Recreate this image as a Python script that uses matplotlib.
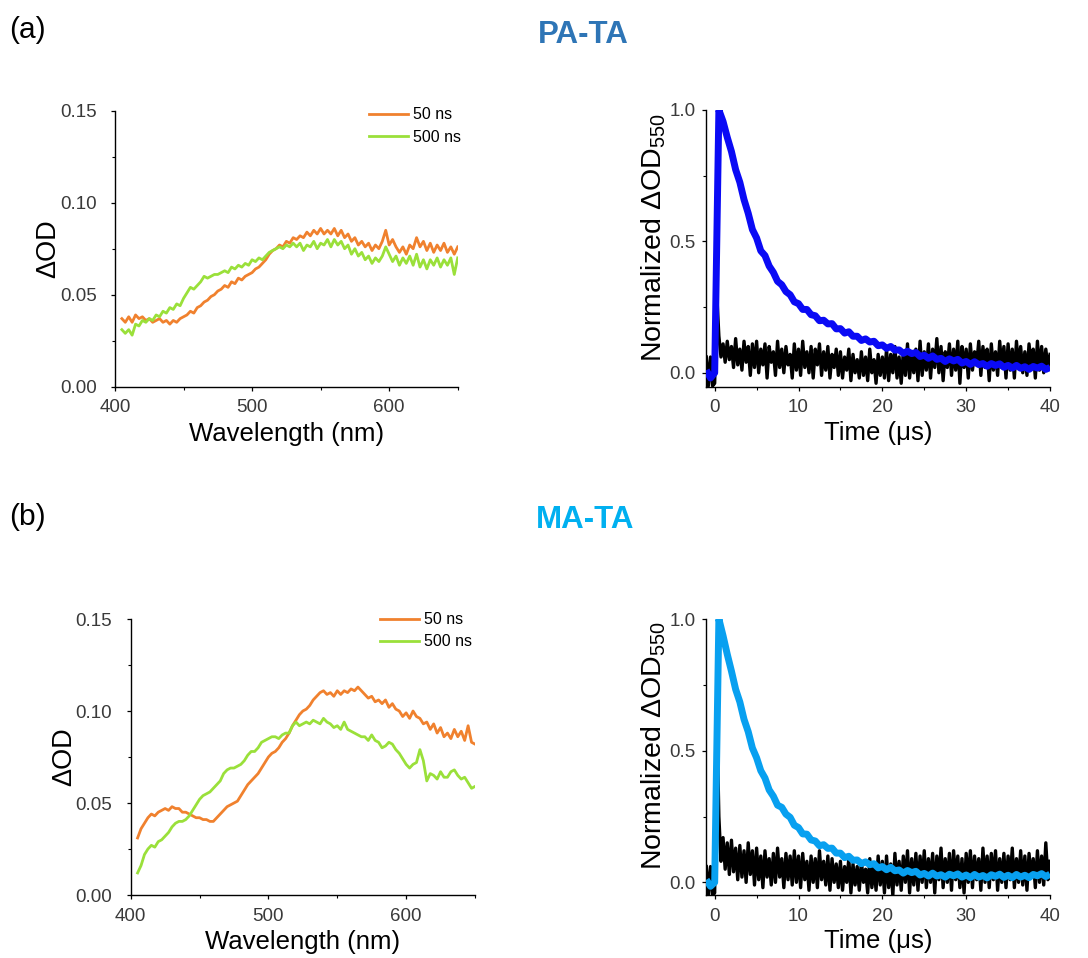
import numpy as np
import matplotlib
matplotlib.use("Agg")
import matplotlib.pyplot as plt
from matplotlib.ticker import MultipleLocator, FormatStrFormatter

plt.rcParams['font.family'] = ['Liberation Sans', 'DejaVu Sans']
plt.rcParams['mathtext.default'] = 'regular'

# ---------------- data ----------------
wavelength = np.arange(405, 650.01, 2.5)

pa_50ns = [
    0.037, 0.035, 0.038, 0.035, 0.039, 0.037, 0.038, 0.036, 0.037, 0.035,
    0.036, 0.037, 0.035, 0.036, 0.034, 0.036, 0.035, 0.037, 0.038, 0.039,
    0.041, 0.040, 0.043, 0.044, 0.046, 0.047, 0.049, 0.050, 0.052, 0.053,
    0.055, 0.054, 0.057, 0.056, 0.059, 0.058, 0.060, 0.061, 0.062, 0.064,
    0.065, 0.067, 0.069, 0.072, 0.074, 0.075, 0.077, 0.076, 0.079, 0.078,
    0.081, 0.080, 0.082, 0.081, 0.084, 0.082, 0.085, 0.083, 0.086, 0.083,
    0.085, 0.083, 0.086, 0.082, 0.085, 0.081, 0.083, 0.079, 0.081, 0.077,
    0.079, 0.076, 0.078, 0.074, 0.077, 0.075, 0.079, 0.085, 0.077, 0.080,
    0.076, 0.073, 0.076, 0.072, 0.077, 0.075, 0.081, 0.076, 0.079, 0.074,
    0.078, 0.073, 0.077, 0.074, 0.078, 0.073, 0.076, 0.072, 0.076]
pa_500ns = [
    0.031, 0.029, 0.031, 0.028, 0.034, 0.033, 0.036, 0.035, 0.037, 0.036,
    0.039, 0.038, 0.041, 0.040, 0.043, 0.042, 0.045, 0.044, 0.048, 0.051,
    0.054, 0.053, 0.055, 0.057, 0.060, 0.059, 0.060, 0.061, 0.061, 0.062,
    0.063, 0.062, 0.065, 0.064, 0.066, 0.065, 0.067, 0.066, 0.069, 0.068,
    0.070, 0.069, 0.071, 0.073, 0.074, 0.075, 0.076, 0.075, 0.077, 0.076,
    0.078, 0.076, 0.078, 0.074, 0.077, 0.076, 0.079, 0.075, 0.078, 0.077,
    0.080, 0.076, 0.080, 0.077, 0.079, 0.075, 0.077, 0.072, 0.075, 0.071,
    0.073, 0.069, 0.071, 0.067, 0.070, 0.068, 0.071, 0.076, 0.072, 0.068,
    0.071, 0.066, 0.070, 0.067, 0.071, 0.066, 0.072, 0.065, 0.069, 0.064,
    0.069, 0.066, 0.070, 0.065, 0.069, 0.066, 0.070, 0.061, 0.070]
ma_50ns = [
    0.031, 0.036, 0.039, 0.042, 0.044, 0.043, 0.045, 0.046, 0.047, 0.046,
    0.048, 0.047, 0.047, 0.045, 0.045, 0.044, 0.043, 0.042, 0.042, 0.041,
    0.041, 0.040, 0.040, 0.042, 0.044, 0.046, 0.048, 0.049, 0.050, 0.051,
    0.054, 0.057, 0.060, 0.062, 0.064, 0.066, 0.069, 0.072, 0.075, 0.077,
    0.078, 0.080, 0.083, 0.085, 0.088, 0.092, 0.095, 0.098, 0.100, 0.101,
    0.103, 0.106, 0.108, 0.110, 0.111, 0.109, 0.110, 0.108, 0.111, 0.109,
    0.111, 0.110, 0.112, 0.111, 0.113, 0.111, 0.109, 0.107, 0.108, 0.105,
    0.106, 0.104, 0.106, 0.102, 0.104, 0.101, 0.100, 0.097, 0.099, 0.096,
    0.100, 0.097, 0.096, 0.093, 0.094, 0.090, 0.093, 0.088, 0.091, 0.086,
    0.088, 0.085, 0.090, 0.086, 0.089, 0.084, 0.092, 0.083, 0.082]
ma_500ns = [
    0.012, 0.016, 0.022, 0.025, 0.027, 0.026, 0.029, 0.030, 0.032, 0.034,
    0.037, 0.039, 0.040, 0.040, 0.041, 0.043, 0.046, 0.049, 0.052, 0.054,
    0.055, 0.056, 0.058, 0.060, 0.062, 0.066, 0.068, 0.069, 0.069, 0.070,
    0.071, 0.073, 0.076, 0.078, 0.078, 0.080, 0.083, 0.084, 0.085, 0.086,
    0.086, 0.085, 0.087, 0.088, 0.088, 0.092, 0.094, 0.092, 0.093, 0.094,
    0.093, 0.095, 0.094, 0.093, 0.096, 0.094, 0.093, 0.091, 0.092, 0.090,
    0.094, 0.090, 0.089, 0.088, 0.087, 0.086, 0.086, 0.084, 0.087, 0.084,
    0.083, 0.080, 0.081, 0.083, 0.082, 0.079, 0.077, 0.074, 0.071, 0.069,
    0.071, 0.072, 0.079, 0.073, 0.062, 0.066, 0.065, 0.063, 0.067, 0.064,
    0.064, 0.067, 0.068, 0.065, 0.063, 0.064, 0.061, 0.058, 0.059]

time_fast = np.arange(-1, 40.01, 0.25)   # black reference traces
time_slow = np.arange(-1, 40.01, 0.5)    # coloured traces

pa_decay = [
    0.01, -0.02, 0.00, 1.00,
    0.956, 0.896, 0.842, 0.773, 0.725, 0.659, 0.607, 0.545, 0.513, 0.464,
    0.446, 0.406, 0.382, 0.348, 0.335, 0.309, 0.297, 0.270, 0.263, 0.241,
    0.241, 0.221, 0.217, 0.198, 0.200, 0.186, 0.187, 0.167, 0.168, 0.151,
    0.156, 0.139, 0.139, 0.123, 0.129, 0.117, 0.120, 0.103, 0.106, 0.093,
    0.100, 0.086, 0.087, 0.074, 0.082, 0.073, 0.077, 0.062, 0.067, 0.055,
    0.064, 0.051, 0.055, 0.043, 0.053, 0.045, 0.051, 0.037, 0.043, 0.032,
    0.042, 0.031, 0.035, 0.025, 0.035, 0.028, 0.034, 0.021, 0.028, 0.018,
    0.028, 0.017, 0.023, 0.013, 0.024, 0.018, 0.025, 0.013, 0.020]
ma_decay = [
    0.01, -0.015, 0.00, 1.00,
    0.936, 0.866, 0.802, 0.733, 0.685, 0.619, 0.572, 0.510, 0.473, 0.424,
    0.396, 0.351, 0.327, 0.293, 0.285, 0.259, 0.247, 0.217, 0.208, 0.184,
    0.183, 0.161, 0.157, 0.139, 0.143, 0.129, 0.130, 0.111, 0.111, 0.094,
    0.099, 0.084, 0.085, 0.071, 0.078, 0.067, 0.071, 0.055, 0.060, 0.048,
    0.057, 0.044, 0.047, 0.035, 0.045, 0.037, 0.042, 0.028, 0.034, 0.024,
    0.035, 0.024, 0.029, 0.020, 0.031, 0.025, 0.032, 0.020, 0.028, 0.018,
    0.030, 0.020, 0.026, 0.017, 0.029, 0.023, 0.031, 0.019, 0.027, 0.018,
    0.030, 0.020, 0.027, 0.018, 0.030, 0.025, 0.033, 0.022, 0.031]

pa_ref = [
    0.06, -0.05, 0.06, -0.05, -0.04, 0.30,
    0.14, 0.06, 0.11, 0.04, 0.12, 0.05, 0.10, 0.02, 0.13, 0.03, 0.09, 0.01, 0.12, 0.04, 0.10, -0.01, 0.11, 0.02,
    0.12, 0.00, 0.09, 0.03, 0.11, -0.02, 0.10, 0.04, 0.08, -0.01, 0.12, 0.02, 0.09, 0.00, 0.10, 0.03, 0.07, -0.02, 0.11, 0.01,
    0.09, -0.01, 0.12, 0.02, 0.08, 0.00, 0.10, -0.02, 0.09, 0.03, 0.11, -0.01, 0.08, 0.01, 0.10, -0.02, 0.07, 0.02, 0.09, -0.01,
    0.08, -0.02, 0.06, 0.01, 0.09, -0.03, 0.07, 0.00, 0.05, -0.02, 0.08, -0.01, 0.06, -0.03, 0.09, 0.00, 0.05, -0.04, 0.07, -0.01,
    0.06, -0.02, 0.09, -0.03, 0.07, 0.00, 0.10, -0.02, 0.06, -0.04, 0.08, -0.01, 0.11, -0.02, 0.07, 0.00, 0.09, -0.03, 0.12, -0.01,
    0.08, 0.01, 0.11, -0.02, 0.09, 0.02, 0.13, 0.00, 0.10, -0.03, 0.08, 0.02, 0.11, -0.01, 0.09, 0.01, 0.12, -0.04, 0.10, 0.02,
    0.09, -0.02, 0.11, 0.01, 0.08, 0.03, 0.12, -0.01, 0.10, 0.02, 0.09, -0.03, 0.11, 0.01, 0.08, -0.01, 0.12, 0.02, 0.10, -0.02,
    0.11, 0.01, 0.09, -0.02, 0.12, 0.02, 0.10, 0.00, 0.08, -0.01, 0.11, 0.03, 0.09, -0.02, 0.12, 0.01, 0.10, 0.00, 0.09, 0.02,
    0.07]
ma_ref = [
    0.06, -0.05, 0.06, -0.05, -0.04, 0.64,
    0.25, 0.08, 0.17, 0.05, 0.15, 0.03, 0.16, 0.04, 0.13, 0.01, 0.14, 0.02, 0.12, 0.00, 0.15, 0.03, 0.12, -0.01,
    0.13, 0.01, 0.10, -0.02, 0.12, 0.02, 0.09, -0.01, 0.11, 0.00, 0.13, 0.02, 0.09, -0.02, 0.11, 0.01, 0.10, -0.01, 0.12, 0.00,
    0.10, -0.02, 0.11, 0.01, 0.08, -0.03, 0.10, 0.00, 0.09, -0.02, 0.12, 0.01, 0.08, -0.01, 0.10, -0.03, 0.09, 0.00, 0.07, -0.02,
    0.08, -0.03, 0.06, 0.00, 0.09, -0.04, 0.07, -0.01, 0.06, -0.03, 0.08, 0.00, 0.05, -0.04, 0.09, -0.02, 0.06, -0.03, 0.10, -0.01,
    0.08, -0.04, 0.10, -0.02, 0.07, -0.05, 0.11, -0.01, 0.08, -0.03, 0.10, 0.00, 0.12, -0.04, 0.09, -0.01, 0.11, -0.03, 0.10, 0.00,
    0.12, -0.02, 0.09, 0.00, 0.11, -0.04, 0.10, 0.01, 0.13, -0.02, 0.09, 0.00, 0.11, -0.03, 0.12, 0.01, 0.10, -0.02, 0.09, -0.04,
    0.11, 0.00, 0.12, -0.02, 0.10, 0.01, 0.09, -0.03, 0.13, 0.00, 0.10, -0.02, 0.11, 0.01, 0.12, -0.03, 0.09, 0.00, 0.11, -0.02,
    0.10, 0.01, 0.13, -0.02, 0.09, 0.00, 0.12, -0.01, 0.10, -0.03, 0.11, 0.02, 0.09, -0.02, 0.12, 0.00, 0.10, -0.01, 0.15, 0.01,
    0.08]

legend_labels = ["50 ns", "500 ns"]
spec_ticks = [0.00, 0.05, 0.10, 0.15]
wl_ticks = [400, 500, 600]
time_ticks = [0, 10, 20, 30, 40]
norm_ticks = [0.0, 0.5, 1.0]

C_ORANGE = '#F0812E'
C_GREEN = '#9AE03A'
C_BLUE_A = '#0A0AF5'
C_BLUE_B = '#08A0F0'
TICK_COL = '#3a3a3a'

W, H = 1088, 958
fig = plt.figure(figsize=(W / 100, H / 100), dpi=100)


def px_axes(x0, x1, ytop, ybot):
    return fig.add_axes([x0 / W, 1 - ybot / H, (x1 - x0) / W, (ybot - ytop) / H])


def style(ax, ypad):
    for s in ('top', 'right'):
        ax.spines[s].set_visible(False)
    for s in ('left', 'bottom'):
        ax.spines[s].set_linewidth(1.0)
    ax.tick_params(which='major', direction='out', length=3.2, width=0.9,
                   labelsize=13.5, colors='black', labelcolor=TICK_COL)
    ax.tick_params(which='minor', direction='out', length=2.0, width=0.8)
    ax.tick_params(axis='y', pad=ypad)
    ax.tick_params(axis='x', pad=6)


def spectrum(ax, o, g, leg_anchor):
    l1, = ax.plot(wavelength, o, color=C_ORANGE, lw=2.0)
    l2, = ax.plot(wavelength, g, color=C_GREEN, lw=2.0)
    ax.set_xlim(400, 650)
    ax.set_ylim(0, 0.15)
    ax.set_xticks(wl_ticks)
    ax.set_yticks(spec_ticks)
    ax.xaxis.set_minor_locator(MultipleLocator(50))
    ax.yaxis.set_minor_locator(MultipleLocator(0.025))
    ax.yaxis.set_major_formatter(FormatStrFormatter('%.2f'))
    style(ax, 10)
    ax.set_xlabel('Wavelength (nm)', fontsize=18.5, labelpad=4)
    ax.set_ylabel('ΔOD', fontsize=19.5, labelpad=-1)
    ax.legend([l1, l2], legend_labels, loc='upper left', bbox_to_anchor=leg_anchor,
              frameon=False, fontsize=11.5, handlelength=2.45, handletextpad=0.3,
              labelspacing=0.45, borderpad=0, borderaxespad=0)


def decay(ax, sig, ref, col, ybot):
    ax.plot(time_fast, ref, color='black', lw=2.4, zorder=2)
    ax.plot(time_slow, sig, color=col, lw=5.0, zorder=3, solid_capstyle='butt')
    ax.set_xlim(-1, 40)
    ax.set_ylim(ybot, 1.0)
    ax.set_xticks(time_ticks)
    ax.set_yticks(norm_ticks)
    ax.xaxis.set_minor_locator(MultipleLocator(5))
    ax.yaxis.set_minor_locator(MultipleLocator(0.25))
    ax.yaxis.set_major_formatter(FormatStrFormatter('%.1f'))
    style(ax, 4.5)
    ax.set_xlabel('Time (μs)', fontsize=18.5, labelpad=3)
    ax.set_ylabel('Normalized ΔOD$_{550}$', fontsize=20.5, labelpad=1, y=0.54)


ax1 = px_axes(115, 457.7, 110.7, 386.7)
spectrum(ax1, pa_50ns, pa_500ns, (0.741, 1.012))
ax2 = px_axes(706.3, 1050, 110, 386.7)
decay(ax2, pa_decay, pa_ref, C_BLUE_A, -0.053)

ax3 = px_axes(130.7, 475, 619, 895)
spectrum(ax3, ma_50ns, ma_500ns, (0.724, 1.025))
ax4 = px_axes(706.3, 1050, 619, 895)
decay(ax4, ma_decay, ma_ref, C_BLUE_B, -0.048)

fig.text(9 / W, 1 - 30 / H, '(a)', fontsize=21.5, va='center', ha='left')
fig.text(9 / W, 1 - 517 / H, '(b)', fontsize=21.5, va='center', ha='left')
fig.text(583 / W, 1 - 35 / H, 'PA-TA', fontsize=22.5, fontweight='bold',
         color='#2E75B6', ha='center', va='center')
fig.text(585 / W, 1 - 520 / H, 'MA-TA', fontsize=22.5, fontweight='bold',
         color='#00B0F0', ha='center', va='center')

fig.savefig('out.png', dpi=100)
